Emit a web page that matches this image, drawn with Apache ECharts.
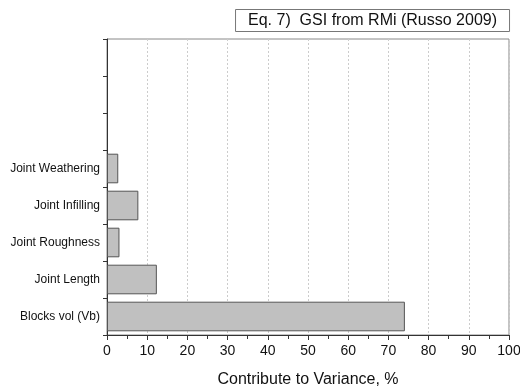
<!DOCTYPE html>
<html>
<head>
<meta charset="utf-8">
<script src="https://cdn.jsdelivr.net/npm/echarts@6/dist/echarts.min.js"></script>
<style>
  html, body { margin: 0; padding: 0; background: #fff; }
  #chart { width: 520px; height: 388px; }
</style>
</head>
<body>
<div id="chart"></div>
<script>
// Variables, bottom to top; the three top slots are left empty
const categories = ['Blocks vol (Vb)', 'Joint Length', 'Joint Roughness', 'Joint Infilling', 'Joint Weathering', '', '', ''];
const contributions = [74.1, 12.4, 3.1, 7.8, 2.8];
const chartTitle = 'Eq. 7)  GSI from RMi (Russo 2009)';
const xAxisTitle = 'Contribute to Variance, %';

const chart = echarts.init(document.getElementById('chart'), null, { renderer: 'canvas' });
const font = 'Liberation Sans, Arial, sans-serif';

chart.setOption({
  animation: false,
  backgroundColor: '#fff',
  title: {
    text: chartTitle,
    right: 10,
    top: 9,
    padding: [2, 13, 2, 13],
    borderColor: '#777',
    borderWidth: 1,
    textStyle: { fontFamily: font, fontSize: 16, fontWeight: 'normal', color: '#111', lineHeight: 19 }
  },
  grid: {
    left: 107, right: 11, top: 39, bottom: 53,
    outerBoundsMode: 'none',
    containLabel: false,
    show: true, borderColor: '#888', borderWidth: 1, backgroundColor: '#fff'
  },
  xAxis: {
    type: 'value',
    min: 0, max: 100, interval: 10,
    name: xAxisTitle,
    nameLocation: 'middle',
    nameGap: 37,
    nameTextStyle: { fontFamily: font, fontSize: 16, color: '#111' },
    axisLine: { show: true, lineStyle: { color: '#333', width: 1 } },
    axisTick: { show: true, length: 5, lineStyle: { color: '#333' } },
    minorTick: { show: true, splitNumber: 2, length: 4, lineStyle: { color: '#333' } },
    axisLabel: { fontFamily: font, fontSize: 14, color: '#111', margin: 9 },
    splitLine: { show: true, lineStyle: { color: '#ccc', type: [2, 2], width: 1 } }
  },
  yAxis: {
    type: 'category',
    data: categories,
    axisLine: { show: true, lineStyle: { color: '#333', width: 1 } },
    axisTick: { show: true, length: 4, alignWithLabel: false, lineStyle: { color: '#333' } },
    axisLabel: { fontFamily: font, fontSize: 12, color: '#111', margin: 7 },
    splitLine: { show: false }
  },
  series: [{
    type: 'bar',
    data: contributions,
    barCategoryGap: '20%',
    itemStyle: { color: '#c0c0c0', borderColor: '#555', borderWidth: 1 }
  }]
});
</script>
</body>
</html>
